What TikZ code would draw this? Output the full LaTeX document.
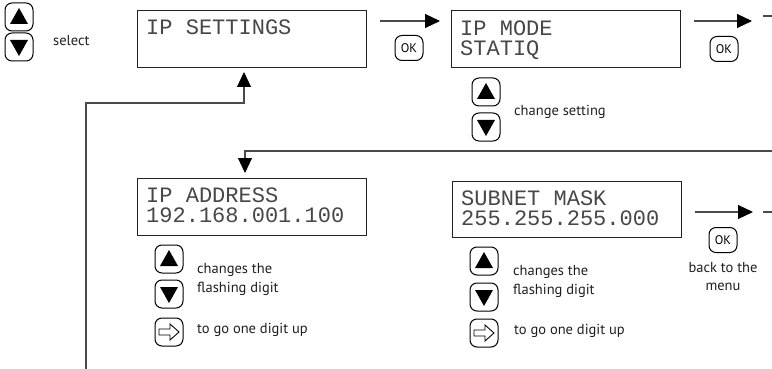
\documentclass[tikz,border=0pt]{standalone}
\usepackage{fontspec}
\setmainfont{PT Sans}
\newfontfamily\lcdfont{Liberation Mono}
\usetikzlibrary{arrows.meta}
\definecolor{linegray}{HTML}{4A4A4A}
\definecolor{boxline}{HTML}{222222}
\tikzset{
  lcd/.style={draw=boxline, line width=1pt, anchor=north west, inner sep=0pt, minimum width=229pt, minimum height=57pt},
  lcdtext/.style={anchor=base west, inner sep=0pt, font=\lcdfont\fontsize{22}{20}\selectfont, text=black!72},
  lbl/.style={anchor=west, inner sep=0pt, font=\fontsize{14.5}{17}\selectfont, text=black!88},
  lblc/.style={inner sep=0pt, font=\fontsize{14.5}{18}\selectfont, text=black!88},
  btnframe/.style={draw=black, line width=1pt, rounded corners=7pt, minimum width=28pt, minimum height=28pt, inner sep=0pt},
  flow/.style={draw=linegray, line width=1.1pt, -{Triangle[length=15pt,width=14pt,color=black]}},
  plainline/.style={draw=linegray, line width=1.1pt},
  upbtn/.pic={\node[btnframe] (-f) {}; \fill (-9,7) -- (9,7) -- (0,-9) -- cycle;},
  downbtn/.pic={\node[btnframe] (-f) {}; \fill (-9,-7) -- (9,-7) -- (0,9) -- cycle;},
  rightbtn/.pic={\node[btnframe] (-f) {}; \draw[line width=0.9pt, fill=white] (-10,-3) -- (1,-3) -- (1,-8) -- (10,0) -- (1,8) -- (1,3) -- (-10,3) -- cycle;},
  okbtn/.pic={\node[btnframe, minimum height=25pt, font=\fontsize{12.5}{12.5}\selectfont] (-f) {OK};},
}
\begin{document}
\begin{tikzpicture}[x=1pt,y=-1pt]
\useasboundingbox (0,0) rectangle (772,369);

% top-left select buttons
\pic (selup) at (19,17) {upbtn};
\pic (seldn) at (19,47) {downbtn};
\node[lbl] (selt) at (53,41) {select};

% LCD boxes
\node[lcd] (set) at (137,10) {};
\node[lcdtext] (sett) at (146,35) {IP SETTINGS};
\node[lcd] (mode) at (451,10) {};
\node[lcdtext] (mode1) at (460,36) {IP MODE};
\node[lcdtext] (mode2) at (460,56) {STATIQ};
\node[lcd] (addr) at (137,178) {};
\node[lcdtext] (addr1) at (146,202) {IP ADDRESS};
\node[lcdtext] (addr2) at (146,222) {192.168.001.100};
\node[lcd, minimum height=56pt] (mask) at (452,181) {};
\node[lcdtext] (mask1) at (461,205) {SUBNET MASK};
\node[lcdtext] (mask2) at (461,225) {255.255.255.000};

% row 1 arrows
\coordinate (a1s) at (380,21); \coordinate (a1e) at (440,21);
\draw[flow] (a1s) -- (a1e);
\pic (ok1) at (409,48) {okbtn};
\coordinate (a2s) at (694,21); \coordinate (a2e) at (752,21);
\draw[flow] (a2s) -- (a2e);
\coordinate (d1s) at (763,16); \coordinate (d1e) at (772,16);
\draw[plainline] (d1s) -- (d1e);
\pic (ok2) at (724,49) {okbtn};

% IP MODE buttons
\pic (mup) at (486,92) {upbtn};
\pic (mdn) at (486,127) {downbtn};
\node[lbl] (mtxt) at (514,112) {change setting};

% loop into IP ADDRESS
\coordinate (rin) at (772,151); \coordinate (atip) at (245,173);
\draw[flow] (rin) -| (atip);

% feedback to IP SETTINGS
\coordinate (fb) at (86,369); \coordinate (fbk) at (86,103); \coordinate (fbend) at (244,72);
\draw[flow] (fb) -- (fbk) -| (fbend);

% IP ADDRESS buttons
\pic (aup) at (169,259) {upbtn};
\pic (adn) at (169,294) {downbtn};
\pic (art) at (169,332) {rightbtn};
\node[lbl] (at1) at (197,270) {changes the};
\node[lbl] (at2) at (197,289) {flashing digit};
\node[lbl] (at3) at (197,330) {to go one digit up};

% SUBNET buttons
\pic (sup) at (484,261) {upbtn};
\pic (sdn) at (484,297) {downbtn};
\pic (srt) at (484,333) {rightbtn};
\node[lbl] (st1) at (513,272) {changes the};
\node[lbl] (st2) at (513,291) {flashing digit};
\node[lbl] (st3) at (514,331) {to go one digit up};

% row 2 arrow
\coordinate (a3s) at (695,212); \coordinate (a3e) at (753,212);
\draw[flow] (a3s) -- (a3e);
\coordinate (d2s) at (763,212); \coordinate (d2e) at (772,212);
\draw[plainline] (d2s) -- (d2e);
\pic (ok3) at (723,240) {okbtn};
\node[lblc, align=center] (back) at (723,277) {back to the\\menu};
\end{tikzpicture}
\end{document}
